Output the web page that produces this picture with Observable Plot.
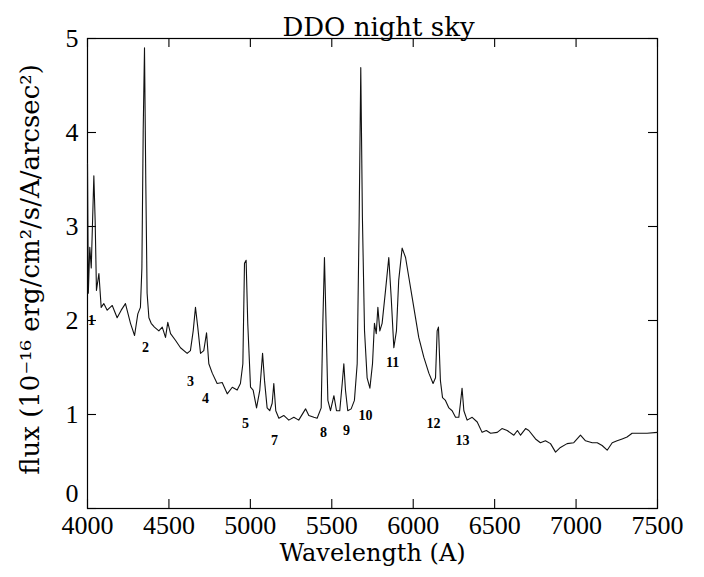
<!DOCTYPE html>
<html><head><meta charset="utf-8">
<script src="https://cdn.jsdelivr.net/npm/d3@7"></script>
<script src="https://cdn.jsdelivr.net/npm/@observablehq/plot@0.6"></script>
<style>body{margin:0;background:#fff}</style>
</head><body><div id="chart"></div>
<script>
const title = "DDO night sky";
const xLabel = "Wavelength (A)";
const yLabel = "flux (10\u207B\u00B9\u2076 erg/cm\u00B2/s/A/arcsec\u00B2)";
const xTicks = [4000, 4500, 5000, 5500, 6000, 6500, 7000, 7500];
const yTicks = [0, 1, 2, 3, 4, 5];

const wavelength = [4000,4005,4014,4023,4039,4047,4055,4070,4084,4100,4121,4152,4182,4207,4233,4264,4289,4309,4325,4334,4342,4350,4358,4366,4377,4391,4411,4438,4459,4479,4493,4510,4540,4571,4612,4632,4649,4663,4677,4694,4714,4731,4745,4766,4796,4827,4858,4889,4919,4939,4954,4964,4974,4984,5001,5017,5038,5058,5075,5087,5103,5119,5134,5144,5156,5175,5205,5236,5267,5297,5339,5359,5390,5410,5435,5445,5455,5466,5476,5492,5513,5529,5549,5564,5574,5584,5598,5619,5639,5656,5668,5678,5688,5701,5717,5734,5750,5762,5773,5783,5795,5809,5830,5850,5865,5881,5897,5911,5932,5953,5973,5994,6014,6034,6065,6096,6122,6137,6147,6155,6167,6180,6198,6219,6239,6260,6280,6290,6300,6311,6331,6362,6393,6423,6449,6475,6516,6545,6577,6618,6640,6659,6690,6710,6751,6781,6812,6843,6874,6904,6945,6986,7027,7058,7099,7130,7160,7191,7222,7252,7283,7313,7344,7395,7436,7500];
const flux = [3.67,2.29,2.78,2.56,3.54,3.06,2.32,2.50,2.14,2.18,2.11,2.16,2.03,2.11,2.18,1.97,1.84,2.07,2.14,2.56,4.02,4.90,3.46,2.29,2.03,1.97,1.93,1.89,1.93,1.82,1.98,1.86,1.79,1.71,1.65,1.68,1.89,2.14,1.93,1.65,1.68,1.87,1.54,1.44,1.33,1.34,1.22,1.29,1.26,1.33,1.54,2.61,2.64,1.97,1.29,1.26,1.07,1.26,1.65,1.36,1.07,1.04,1.12,1.33,1.04,0.96,0.99,0.94,0.97,0.94,1.06,0.99,0.97,0.96,1.07,1.97,2.67,1.89,1.15,1.04,1.20,1.04,1.04,1.33,1.54,1.26,1.04,1.06,1.15,1.54,3.06,4.69,3.10,1.89,1.39,1.28,1.54,1.97,1.86,2.14,1.89,1.97,2.32,2.67,2.24,1.71,1.89,2.43,2.77,2.67,2.46,2.24,2.03,1.82,1.61,1.44,1.33,1.39,1.89,1.93,1.36,1.18,1.15,1.07,1.04,0.97,0.97,1.12,1.28,1.04,0.94,0.97,0.92,0.81,0.83,0.80,0.81,0.85,0.83,0.78,0.83,0.78,0.85,0.83,0.74,0.70,0.72,0.69,0.60,0.65,0.69,0.70,0.78,0.72,0.70,0.70,0.67,0.62,0.70,0.72,0.74,0.76,0.80,0.80,0.80,0.81];

const lineLabels = ["1","2","3","4","5","7","8","9","10","11","12","13"];
const labelWavelength = [4025,4356,4632,4724,4970,5148,5449,5590,5707,5873,6124,6302];
const labelFlux = [2.0,1.71,1.35,1.17,0.90,0.72,0.81,0.83,0.99,1.55,0.90,0.72];

const spectrum = wavelength.map((w, i) => ({w, f: flux[i]}));
const labels = lineLabels.map((t, i) => ({t, w: labelWavelength[i], f: labelFlux[i]}));

const W = 704, H = 577, mT = 38, mL = 87, mR = 47, mB = 69, tick = 9;
const innerW = W - mL - mR, innerH = H - mT - mB;
const fmt = d3.format("d");

const chart = Plot.plot({
  width: W, height: H,
  marginTop: mT, marginLeft: mL, marginRight: mR, marginBottom: mB,
  style: {fontFamily: "Liberation Serif", fontSize: "26px", background: "#fff", color: "#000"},
  x: {domain: [4000, 7500]},
  y: {domain: [0, 5]},
  marks: [
    Plot.frame({stroke: "#000", strokeWidth: 1.2}),
    Plot.axisX(xTicks, {anchor: "bottom", tickSize: 0, tickPadding: 7, label: null, tickFormat: fmt}),
    Plot.axisY(yTicks.slice(1), {anchor: "left", tickSize: 0, tickPadding: 9, label: null, tickFormat: fmt}),
    Plot.axisY(yTicks.slice(0, 1), {anchor: "left", tickSize: 0, tickPadding: 9, dy: -15, label: null, tickFormat: fmt}),
    Plot.ruleX(xTicks, {x: d => d, insetTop: innerH - tick, stroke: "#000", strokeWidth: 1.1}),
    Plot.ruleX(xTicks, {x: d => d, insetBottom: innerH - tick, stroke: "#000", strokeWidth: 1.1}),
    Plot.ruleY(yTicks, {y: d => d, insetRight: innerW - tick, stroke: "#000", strokeWidth: 1.1}),
    Plot.ruleY(yTicks, {y: d => d, insetLeft: innerW - tick, stroke: "#000", strokeWidth: 1.1}),
    Plot.line(spectrum, {x: "w", y: "f", stroke: "#111", strokeWidth: 1.1}),
    Plot.text(labels, {x: "w", y: "f", text: "t", fontSize: 14, fontWeight: "bold", fontFamily: "Liberation Serif"}),
    Plot.text([title], {frameAnchor: "top", textAnchor: "middle", dx: 6, dy: -21, fontSize: 26, fontFamily: "DejaVu Serif"}),
    Plot.text([xLabel], {frameAnchor: "bottom", textAnchor: "middle", dy: 52, fontSize: 24, fontFamily: "DejaVu Serif"}),
    Plot.text([yLabel], {frameAnchor: "left", textAnchor: "middle", dx: -57, dy: -4, rotate: -90, fontSize: 26, fontFamily: "DejaVu Serif"})
  ]
});
document.getElementById("chart").appendChild(chart);
</script>
</body></html>
